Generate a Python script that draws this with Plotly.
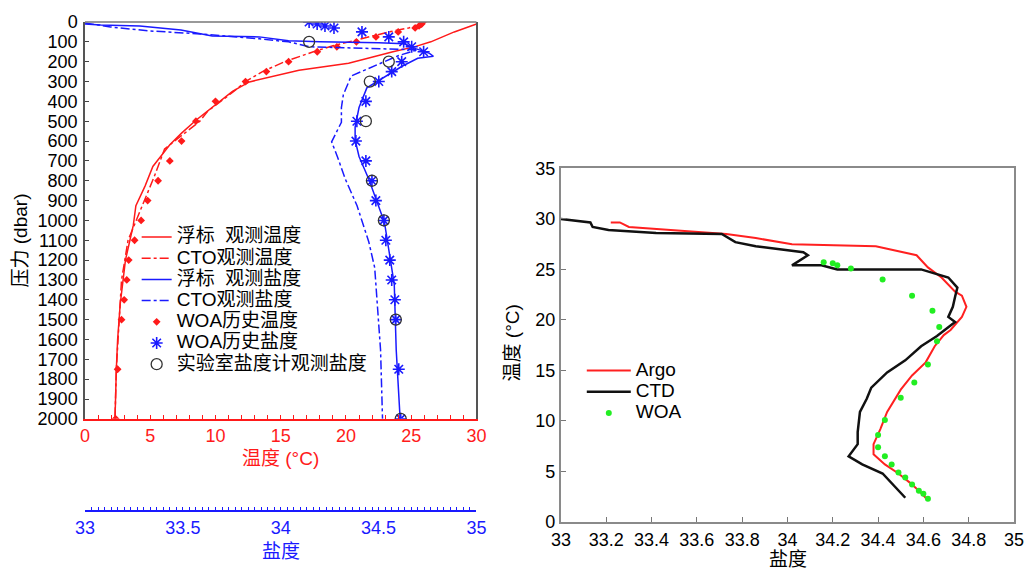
import plotly.graph_objects as go

# ---------------- data: left panel (pressure profiles) ----------------
argo_t_p = [10, 20, 50, 100, 124, 150, 180, 208, 243, 302, 350, 416, 495, 560, 619, 728, 827, 926, 1025, 1200, 1421, 1600, 1752, 2000]
argo_t = [30.0, 29.6, 28.3, 26.5, 25.3, 23.6, 21.8, 20.2, 16.4, 12.6, 11.3, 10.0, 8.5, 7.4, 6.5, 5.2, 4.6, 3.9, 3.7, 3.1, 2.7, 2.5, 2.4, 2.3]

ctd_t_p = [10, 30, 50, 80, 120, 150, 200, 250, 300, 350, 400, 450, 500, 640, 780, 925, 1100, 1300, 1500, 1750, 2000]
ctd_t = [25.8, 24.8, 23.3, 21.5, 19.0, 17.5, 15.3, 13.6, 12.3, 11.4, 10.4, 9.4, 8.8, 6.1, 5.3, 4.4, 3.3, 2.8, 2.6, 2.4, 2.3]

argo_s_p = [10, 15, 20, 40, 70, 75, 95, 100, 105, 110, 134, 158, 173, 183, 223, 282, 332, 431, 530, 594, 678, 792, 926, 1010, 1322, 1653, 2000]
argo_s = [33.0, 33.08, 33.28, 33.49, 33.65, 33.89, 34.04, 34.20, 34.50, 34.63, 34.69, 34.76, 34.78, 34.70, 34.62, 34.52, 34.44, 34.40, 34.38, 34.38, 34.40, 34.45, 34.50, 34.53, 34.58, 34.59, 34.61]

ctd_s_p = [5, 25, 45, 60, 85, 100, 125, 135, 140, 170, 223, 272, 366, 431, 505, 604, 680, 792, 926, 1109, 1238, 1371, 1485, 1653, 2000]
ctd_s = [33.0, 33.13, 33.33, 33.59, 33.89, 34.04, 34.15, 34.49, 34.70, 34.60, 34.48, 34.36, 34.32, 34.31, 34.31, 34.26, 34.29, 34.33, 34.39, 34.45, 34.48, 34.49, 34.50, 34.51, 34.52]

woa_p = [0, 10, 20, 30, 50, 75, 100, 125, 150, 200, 250, 300, 400, 500, 600, 700, 800, 900, 1000, 1100, 1200, 1300, 1400, 1500, 1750, 2000]
woa_t = [25.9, 25.8, 25.6, 25.3, 24.0, 22.3, 20.8, 19.3, 17.8, 15.6, 13.9, 12.3, 10.0, 8.5, 7.4, 6.5, 5.6, 4.8, 4.3, 3.8, 3.35, 3.2, 3.0, 2.8, 2.5, 2.35]
woa_s = [34.145, 34.186, 34.226, 34.272, 34.415, 34.552, 34.628, 34.669, 34.730, 34.618, 34.567, 34.501, 34.435, 34.389, 34.384, 34.435, 34.466, 34.486, 34.527, 34.537, 34.557, 34.567, 34.583, 34.588, 34.603, 34.613]

lab_p = [100, 200, 300, 500, 800, 1000, 1500, 2000]
lab_s = [34.145, 34.552, 34.455, 34.435, 34.466, 34.527, 34.588, 34.613]

# ---------------- data: right panel (T-S diagram) ----------------
ts_argo_s = [33.22, 33.26, 33.30, 33.36, 33.57, 33.73, 33.86, 34.02, 34.39, 34.57, 34.62, 34.68, 34.74, 34.77, 34.79, 34.77, 34.72, 34.69, 34.65, 34.61, 34.55, 34.50, 34.44, 34.41, 34.38, 34.38, 34.43, 34.49, 34.54, 34.58, 34.61]
ts_argo_t = [29.65, 29.65, 29.2, 29.1, 28.7, 28.5, 28.1, 27.5, 27.3, 26.4, 25.2, 24.2, 22.8, 22.4, 21.3, 20.3, 19.0, 18.5, 17.4, 15.8, 14.5, 13.1, 10.9, 9.2, 7.7, 6.7, 5.7, 4.8, 3.9, 3.1, 2.4]

ts_ctd_s = [33.0, 33.07, 33.13, 33.14, 33.21, 33.42, 33.71, 33.77, 33.86, 34.07, 34.09, 34.02, 34.15, 34.22, 34.44, 34.59, 34.71, 34.75, 34.74, 34.73, 34.71, 34.74, 34.66, 34.59, 34.52, 34.44, 34.37, 34.35, 34.32, 34.31, 34.31, 34.27, 34.33, 34.42, 34.52]
ts_ctd_t = [30.0, 29.85, 29.65, 29.2, 28.9, 28.6, 28.5, 27.7, 27.3, 26.7, 26.4, 25.4, 25.4, 25.0, 25.0, 25.0, 24.2, 23.2, 22.3, 21.3, 20.3, 19.8, 18.4, 17.4, 16.0, 14.8, 13.3, 12.2, 10.9, 8.9, 7.7, 6.5, 5.7, 4.8, 2.4]

ts_woa_s = [34.16, 34.20, 34.22, 34.28, 34.42, 34.55, 34.64, 34.67, 34.66, 34.62, 34.56, 34.50, 34.43, 34.40, 34.40, 34.43, 34.46, 34.49, 34.52, 34.55, 34.58, 34.60, 34.62]
ts_woa_t = [25.7, 25.6, 25.4, 25.1, 24.0, 22.4, 20.9, 19.3, 17.9, 15.6, 13.8, 12.3, 10.1, 8.6, 7.4, 6.5, 5.7, 4.9, 4.4, 3.7, 3.1, 2.8, 2.3]

p_ticks = list(range(0, 2001, 100))
t_ticks = [0, 5, 10, 15, 20, 25, 30]
s_ticks = [33, 33.5, 34, 34.5, 35]
s_text = ["33", "33.5", "34", "34.5", "35"]
ts_x_ticks = [33, 33.2, 33.4, 33.6, 33.8, 34, 34.2, 34.4, 34.6, 34.8, 35]
ts_x_text = ["33", "33.2", "33.4", "33.6", "33.8", "34", "34.2", "34.4", "34.6", "34.8", "35"]
ts_y_ticks = [0, 5, 10, 15, 20, 25, 30, 35]

labels_left = ["浮标\u00a0\u00a0观测温度", "CTO观测温度", "浮标\u00a0\u00a0观测盐度", "CTO观测盐度",
               "WOA历史温度", "WOA历史盐度", "实验室盐度计观测盐度"]
labels_right = ["Argo", "CTD", "WOA"]

RED = "#ff1a1a"
BLUE = "#1a1aff"
FONT = "Liberation Sans, Arial, Noto Sans CJK SC, sans-serif"


def lg(t):
    return f'<span style="font-size:19px">{t}</span>'


fig = go.Figure()

fig.add_trace(go.Scatter(x=argo_t, y=argo_t_p, mode="lines", line=dict(color=RED, width=1.5),
                         name=lg(labels_left[0]), xaxis="x", yaxis="y", legend="legend"))
fig.add_trace(go.Scatter(x=ctd_t, y=ctd_t_p, mode="lines", line=dict(color=RED, width=1.5, dash="dashdot"),
                         name=lg(labels_left[1]), xaxis="x", yaxis="y", legend="legend"))
fig.add_trace(go.Scatter(x=argo_s, y=argo_s_p, mode="lines", line=dict(color=BLUE, width=1.5),
                         name=lg(labels_left[2]), xaxis="x2", yaxis="y", legend="legend"))
fig.add_trace(go.Scatter(x=ctd_s, y=ctd_s_p, mode="lines", line=dict(color=BLUE, width=1.5, dash="dashdot"),
                         name=lg(labels_left[3]), xaxis="x2", yaxis="y", legend="legend"))
fig.add_trace(go.Scatter(x=woa_t, y=woa_p, mode="markers", marker=dict(color=RED, size=6, symbol="diamond"),
                         name=lg(labels_left[4]), xaxis="x", yaxis="y", legend="legend"))
fig.add_trace(go.Scatter(x=woa_s, y=woa_p, mode="markers",
                         marker=dict(color=BLUE, size=10, symbol="asterisk-open", line=dict(color=BLUE, width=1.6)),
                         name=lg(labels_left[5]), xaxis="x2", yaxis="y", legend="legend"))
fig.add_trace(go.Scatter(x=lab_s, y=lab_p, mode="markers",
                         marker=dict(color="#333333", size=11, symbol="circle-open", line=dict(color="#333333", width=1.3)),
                         name=lg(labels_left[6]), xaxis="x2", yaxis="y", legend="legend"))

fig.add_trace(go.Scatter(x=ts_argo_s, y=ts_argo_t, mode="lines", line=dict(color="#ff2020", width=2),
                         name=lg(labels_right[0]), xaxis="x3", yaxis="y2", legend="legend2"))
fig.add_trace(go.Scatter(x=ts_ctd_s, y=ts_ctd_t, mode="lines", line=dict(color="#111111", width=2.5),
                         name=lg(labels_right[1]), xaxis="x3", yaxis="y2", legend="legend2"))
fig.add_trace(go.Scatter(x=ts_woa_s, y=ts_woa_t, mode="markers", marker=dict(color="#22ee22", size=6),
                         name=lg(labels_right[2]), xaxis="x3", yaxis="y2", legend="legend2"))

W, H = 1036, 574
ML, MR, MT, MB = 85, 16, 13, 52
PW, PH = W - ML - MR, H - MT - MB


def px(x):
    return (x - ML) / PW


def py(y):
    return (H - MB - y) / PH


left_dom = [0, px(479)]
right_dom = [px(564), 1]


def ann(text, x, y, color="black", angle=0):
    return dict(text=text, x=px(x), y=py(y), xref="paper", yref="paper", xanchor="center", yanchor="middle",
                textangle=angle, showarrow=False, font=dict(size=19, color=color))


fig.update_layout(
    width=W, height=H,
    margin=dict(l=ML, r=MR, t=MT, b=MB),
    paper_bgcolor="white", plot_bgcolor="white",
    font=dict(family=FONT, size=18, color="black"),
    xaxis=dict(domain=left_dom, range=[0, 30], anchor="y", tickvals=t_ticks, ticks="inside", ticklen=4,
               tickcolor=RED, tickfont=dict(color=RED, size=18), showline=True, linecolor=RED, linewidth=1.5,
               showgrid=False, zeroline=False, minor=dict(dtick=1, ticks="inside", ticklen=4, tickcolor=RED),
               ticklabelstandoff=0),
    xaxis2=dict(overlaying="x", anchor="free", position=py(511), range=[33, 35], side="bottom",
                tickvals=s_ticks, ticktext=s_text, ticks="inside", ticklen=3,
                tickcolor=BLUE, tickfont=dict(color=BLUE, size=18), showline=True, linecolor=BLUE, linewidth=1.5,
                showgrid=False, zeroline=False,
                minor=dict(dtick=1 / 30, tick0=33, ticks="inside", ticklen=3, tickcolor=BLUE, tickwidth=1)),
    yaxis=dict(domain=[py(417), 1], range=[2000, 0], anchor="x", tickvals=p_ticks, ticks="inside", ticklen=4,
               tickcolor="#444", showline=True, linecolor="#555", linewidth=1.5, mirror=True,
               showgrid=False, zeroline=False, tickfont=dict(size=18), ticklabelstandoff=2),
    xaxis3=dict(domain=right_dom, range=[33, 35], anchor="y2", tickvals=ts_x_ticks, ticktext=ts_x_text,
                ticks="inside", ticklen=5, tickcolor="#777", showline=True, linecolor="#8a8a8a", linewidth=2,
                mirror=True, showgrid=False, zeroline=False, tickfont=dict(size=18)),
    yaxis2=dict(domain=[0, py(162)], range=[0, 35], anchor="x3", tickvals=ts_y_ticks, ticks="inside", ticklen=5,
                tickcolor="#777", showline=True, linecolor="#8a8a8a", linewidth=2, mirror=True,
                showgrid=False, zeroline=False, tickfont=dict(size=18)),
    legend=dict(x=px(137), y=py(216), xanchor="left", yanchor="top", bgcolor="rgba(0,0,0,0)",
                font=dict(size=14, family=FONT), tracegroupgap=0),
    legend2=dict(x=px(585), y=py(352), xanchor="left", yanchor="top", bgcolor="rgba(0,0,0,0)",
                 font=dict(size=14, family=FONT), tracegroupgap=0, itemwidth=44),
    showlegend=True,
    shapes=[dict(type="line", xref="x domain", yref="y domain", x0=0, x1=1, y0=1, y1=1,
                 line=dict(color="#777", width=1.5))],
    annotations=[
        ann("压力 (dbar)", 20, 235, angle=-90),
        ann("温度 (°C)", 282, 457, color=RED),
        ann("盐度", 282, 552, color=BLUE),
        ann("盐度", 793, 560),
        ann("温度 (°C)", 515, 340, angle=-90),
    ],
)

fig.write_html("out.html")
